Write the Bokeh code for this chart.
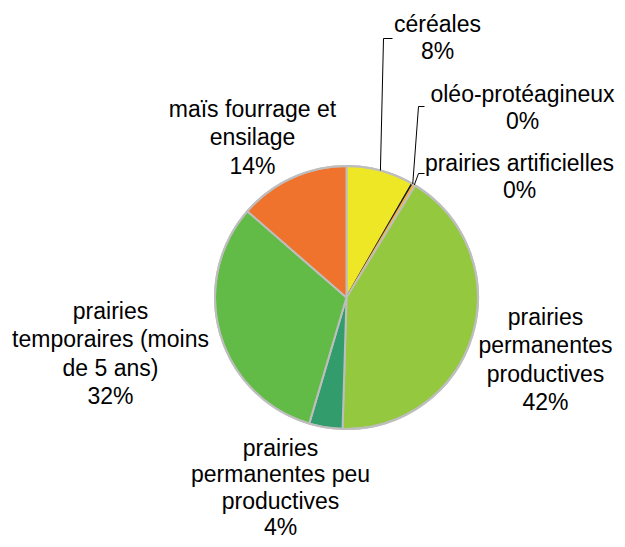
import math
from bokeh.plotting import figure
from bokeh.models import Range1d
from bokeh.core.properties import value
from bokeh.embed import file_html
from bokeh.resources import INLINE

# ---- data ----
categories = ["céréales", "oléo-protéagineux", "prairies artificielles",
              "prairies permanentes productives", "prairies permanentes peu productives",
              "prairies temporaires (moins de 5 ans)", "maïs fourrage et ensilage"]
shares = [8.3, 0.2, 0.25, 41.7, 4.1, 31.8, 13.6]
colors = ["#EDE725", "#1A1A1A", "#F3B531", "#93C83F", "#339C6D", "#63BB47", "#F0732D"]
edge_colors = ["#BEBEBE", "#1A1A1A", "#F3B531", "#BEBEBE", "#BEBEBE", "#BEBEBE", "#BEBEBE"]
label_lines = [["céréales"], ["oléo-protéagineux"], ["prairies artificielles"],
               ["prairies", "permanentes", "productives"],
               ["prairies", "permanentes peu", "productives"],
               ["prairies", "temporaires (moins", "de 5 ans)"],
               ["maïs fourrage et", "ensilage"]]

# ---- layout (picture-pixel coordinates; data y = H - picture y) ----
FW, FH = 617, 539
def sy(y):
    return FH - y

cx, cy, r = 346, sy(297), 131.5
label_pos = [(437, 23), (522, 93), (519, 162), (545, 316), (280, 447), (110, 310), (252, 108)]
gaps = [27, 27, 27, 28.5, 26.5, 28.5, 28.5]

p = figure(width=FW, height=FH, output_backend="svg", toolbar_location=None,
           x_range=Range1d(0, FW), y_range=Range1d(0, FH), min_border=0)
p.axis.visible = False
p.grid.visible = False
p.outline_line_color = None
p.background_fill_color = "white"

total = sum(shares)
cum = 0.0
starts, ends, mids = [], [], []
for v in shares:
    a0 = cum / total * 2 * math.pi
    cum += v
    a1 = cum / total * 2 * math.pi
    starts.append(math.pi / 2 - a0)
    ends.append(math.pi / 2 - a1)
    mids.append((a0 + a1) / 2)

p.wedge(x=[cx] * len(shares), y=[cy] * len(shares), radius=r,
        start_angle=starts, end_angle=ends, direction="clock",
        fill_color=colors, line_color=edge_colors, line_width=2)
# outer grey rim
p.circle(x=[cx], y=[cy], radius=r, fill_color=None, line_color="#BEBEBE", line_width=2)

# leader lines for the small top slices
leader_knees = {0: [(392, 38), (383, 38)], 1: [(424, 106), (418, 106)], 2: [(424, 173), (418, 173)]}
for i, pts in leader_knees.items():
    ex = cx + r * math.sin(mids[i])
    ey = cy + r * math.cos(mids[i])
    xs = [pt[0] for pt in pts] + [ex]
    ys = [sy(pt[1]) for pt in pts] + [ey]
    p.line(xs, ys, line_color="black", line_width=1)

# labels
tx, ty, tt = [], [], []
for i, lines in enumerate(label_lines):
    lx, ly = label_pos[i]
    allines = lines + [f"{round(shares[i])}%"]
    for k, t in enumerate(allines):
        tx.append(lx)
        ty.append(sy(ly + k * gaps[i]))
        tt.append(t)
p.text(x=tx, y=ty, text=tt, text_font=value("Liberation Sans"), text_font_size="23px",
       text_align="center", text_baseline="middle", text_color="black")

open("out.html", "w").write(file_html(p, INLINE))
